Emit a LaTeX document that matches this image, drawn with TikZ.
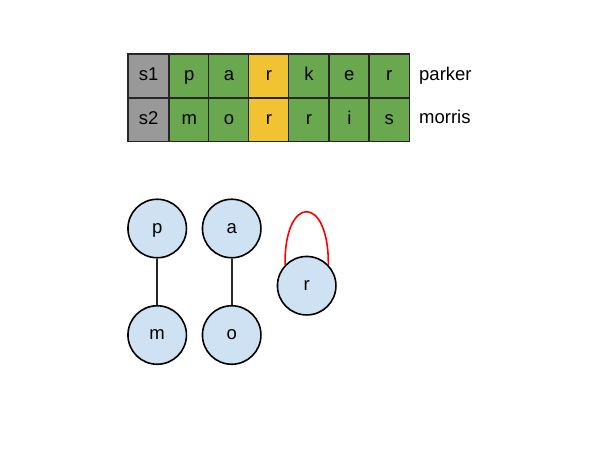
\documentclass[tikz,border=0pt]{standalone}
\usepackage{fontspec}
\setmainfont{Liberation Sans}
\definecolor{cgray}{HTML}{999999}
\definecolor{cgreen}{HTML}{6AA84F}
\definecolor{cyellow}{HTML}{F1C232}
\definecolor{cblue}{HTML}{CFE2F3}
\tikzset{
  txt/.style={font=\fontsize{18.5}{22}\selectfont, text height=13.3pt, text depth=3.7pt},
  cell/.style={txt, minimum width=40.3pt, minimum height=43.5pt, inner sep=0pt, anchor=north west},
  lbl/.style={anchor=west, inner sep=0pt, txt},
  vert/.style={circle, draw=black, line width=1.6pt, fill=cblue, minimum size=58.5pt, inner sep=0pt, txt},
  linkedge/.style={line width=1.7pt, black!85},
  loopedge/.style={line width=1.6pt, red},
  gridline/.style={line width=1.5pt, black!85}
}
\begin{document}
\begin{tikzpicture}[x=1pt,y=-1pt]
\useasboundingbox (0,0) rectangle (589,467);
% row 1
\node[cell, fill=cgray, minimum width=41pt] (a0) at (128,54) {s1};
\node[cell, fill=cgreen] (a1) at (169,54) {p};
\node[cell, fill=cgreen] (a2) at (208.7,54) {a};
\node[cell, fill=cyellow] (a3) at (248.7,54) {r};
\node[cell, fill=cgreen] (a4) at (288.7,54) {k};
\node[cell, fill=cgreen] (a5) at (329,54) {e};
\node[cell, fill=cgreen, minimum width=40pt] (a6) at (369,54) {r};
% row 2
\node[cell, fill=cgray, minimum width=41pt] (b0) at (128,97.5) {s2};
\node[cell, fill=cgreen] (b1) at (169,97.5) {m};
\node[cell, fill=cgreen] (b2) at (208.7,97.5) {o};
\node[cell, fill=cyellow] (b3) at (248.7,97.5) {r};
\node[cell, fill=cgreen] (b4) at (288.7,97.5) {r};
\node[cell, fill=cgreen] (b5) at (329,97.5) {i};
\node[cell, fill=cgreen, minimum width=40pt] (b6) at (369,97.5) {s};
% grid
\draw[gridline] (a0.north west) rectangle (b6.south east);
\draw[gridline] (a0.south west) -- (a6.south east);
\foreach \c in {1,...,6} {\draw[gridline] (a\c.north west) -- (b\c.south west);}
\node[lbl] (l1) at (419,75.5) {parker};
\node[lbl] (l2) at (419,118.5) {morris};
% graph
\node[vert] (p) at (157.2,228.5) {p};
\node[vert] (m) at (157.2,335) {m};
\node[vert] (a) at (231.7,228.5) {a};
\node[vert] (o) at (231.7,335) {o};
\node[vert] (r) at (306.7,285.7) {r};
\draw[linkedge] (p) -- (m);
\draw[linkedge] (a) -- (o);
\draw[loopedge] (r.136) .. controls (284,194) and (329,194) .. (r.44);
\end{tikzpicture}
\end{document}
